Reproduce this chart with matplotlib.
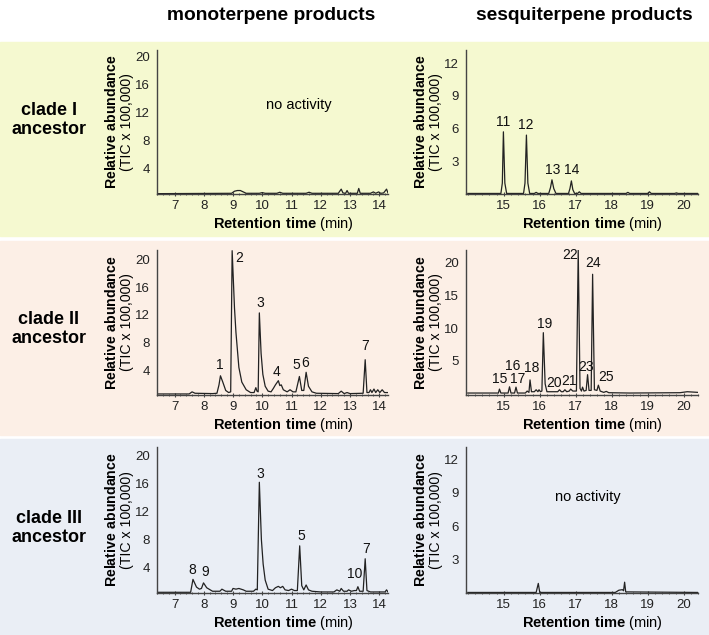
import matplotlib
matplotlib.use("Agg")
from matplotlib import pyplot as plt
from matplotlib.patches import Rectangle
from matplotlib.ticker import MultipleLocator

plt.rcParams['font.family'] = ['Liberation Sans', 'DejaVu Sans']
plt.rcParams['mathtext.fontset'] = 'custom'
plt.rcParams['mathtext.rm'] = 'Liberation Sans'
plt.rcParams['mathtext.bf'] = 'Liberation Sans:bold'

# clade I, monoterpene
c1_mono_t = [6.4, 8.95, 9.05, 9.15, 9.25, 9.35, 9.45, 9.9, 10.0, 10.1, 10.5, 10.6, 10.7,
             11.5, 11.6, 11.7, 12.6, 12.7, 12.76, 12.85, 12.9, 12.95, 13.25, 13.3, 13.35,
             13.7, 13.8, 13.88, 13.98, 14.05, 14.15, 14.25, 14.3]
c1_mono_y = [0.35, 0.4, 0.7, 0.8, 0.8, 0.6, 0.4, 0.4, 0.5, 0.4, 0.4, 0.55, 0.4,
             0.4, 0.55, 0.4, 0.4, 1.0, 0.45, 0.4, 0.8, 0.4, 0.4, 1.1, 0.4,
             0.4, 0.6, 0.4, 0.6, 0.4, 0.45, 1.0, 0.45]

# clade I, sesquiterpene
c1_sesq_t = [14.0, 14.92, 14.96, 14.99, 15.03, 15.08, 15.55, 15.59, 15.63, 15.67, 15.72,
             15.85, 15.9, 15.95, 16.25, 16.3, 16.34, 16.39, 16.45, 16.8, 16.84, 16.88, 16.92,
             16.97, 17.05, 17.1, 17.15, 18.4, 18.45, 18.5, 19.0, 19.05, 19.1, 19.75, 19.8,
             19.85, 20.4]
c1_sesq_y = [0.05, 0.05, 1.0, 5.7, 1.0, 0.05, 0.05, 1.0, 5.4, 1.0, 0.05,
             0.05, 0.15, 0.05, 0.05, 0.6, 1.3, 0.5, 0.05, 0.05, 0.5, 1.2, 0.4,
             0.05, 0.05, 0.2, 0.05, 0.05, 0.15, 0.05, 0.05, 0.2, 0.05, 0.05, 0.1,
             0.05, 0.05]

# clade II, monoterpene
c2_mono_t = [6.4, 7.5, 7.6, 7.7, 8.3, 8.45, 8.52, 8.57, 8.65, 8.75, 8.85, 8.92, 8.97,
             9.05, 9.1, 9.2, 9.3, 9.45, 9.6, 9.72, 9.78, 9.82, 9.86, 9.9, 9.96, 10.02,
             10.1, 10.2, 10.3, 10.38, 10.45, 10.55, 10.6, 10.65, 10.72, 10.85, 10.95,
             11.05, 11.15, 11.27, 11.35, 11.42, 11.5, 11.58, 11.7, 11.85, 12.6, 12.7,
             12.8, 12.9, 13.0, 13.45, 13.52, 13.58, 13.65, 13.7, 13.75, 13.82, 13.88,
             13.95, 14.02, 14.1, 14.18, 14.3]
c2_mono_y = [0.7, 0.7, 1.0, 0.8, 0.75, 0.8, 2.0, 3.3, 2.4, 1.2, 0.9, 1.0, 21.2,
             13.0, 9.5, 4.5, 2.4, 1.3, 0.9, 0.9, 1.6, 1.1, 1.0, 12.3, 6.5, 3.5,
             1.8, 1.1, 1.0, 1.5, 2.0, 2.6, 1.9, 2.0, 1.3, 1.0, 1.3,
             1.0, 1.0, 3.2, 1.2, 1.2, 3.8, 1.8, 1.0, 0.8, 0.75, 1.1,
             0.75, 0.9, 0.75, 0.8, 5.6, 0.9, 0.9, 1.3, 0.9, 1.4, 0.9,
             1.3, 0.9, 1.3, 0.9, 0.9]

# clade II, sesquiterpene
c2_sesq_t = [14.0, 14.85, 14.88, 14.92, 15.12, 15.16, 15.2, 15.3, 15.34, 15.38, 15.6,
             15.65, 15.7, 15.73, 15.77, 15.85, 15.9, 15.95, 15.98, 16.02, 16.06, 16.1,
             16.15, 16.2, 16.5, 16.55, 16.6, 16.65, 16.7, 16.75, 16.82, 16.86, 16.92,
             17.02, 17.07, 17.12, 17.16, 17.19, 17.23, 17.29, 17.33, 17.37, 17.43, 17.47,
             17.52, 17.59, 17.63, 17.68, 17.78, 17.85, 17.92, 18.5, 19.9, 20.1, 20.4]
c2_sesq_y = [0.1, 0.1, 0.7, 0.1, 0.1, 1.05, 0.1, 0.1, 1.0, 0.1, 0.1,
             0.4, 0.2, 2.1, 0.3, 0.3, 0.6, 0.3, 0.6, 0.3, 0.4, 9.3,
             1.5, 0.3, 0.3, 0.6, 0.3, 0.3, 0.6, 0.3, 0.4, 0.7, 0.4,
             0.4, 21.9, 0.8, 0.4, 1.0, 0.4, 0.5, 2.9, 0.5, 0.5, 18.2,
             0.6, 0.5, 1.3, 0.4, 0.2, 0.35, 0.15, 0.1, 0.15, 0.3, 0.2]

# clade III, monoterpene
c3_mono_t = [6.4, 7.55, 7.63, 7.75, 7.85, 7.92, 7.99, 8.1, 8.3, 8.55, 8.62, 8.75, 8.95,
             9.0, 9.1, 9.2, 9.35, 9.45, 9.7, 9.78, 9.83, 9.9, 9.97, 10.03, 10.1, 10.2,
             10.35, 10.45, 10.55, 10.62, 10.7, 10.78, 10.9, 11.0, 11.1, 11.2, 11.28,
             11.35, 11.42, 11.5, 11.58, 11.7, 12.0, 12.45, 12.55, 12.65, 12.7, 12.78,
             12.9, 12.95, 13.05, 13.15, 13.22, 13.27, 13.33, 13.45, 13.52, 13.58, 13.7,
             14.2, 14.25, 14.3]
c3_mono_y = [0.45, 0.45, 2.3, 1.2, 0.9, 1.0, 1.8, 1.1, 0.6, 0.6, 0.9, 0.6, 0.6,
             1.0, 0.9, 1.0, 0.8, 0.6, 0.6, 0.9, 0.8, 16.2, 8.0, 4.5, 2.2, 0.9,
             0.7, 1.1, 1.3, 1.1, 1.3, 0.8, 0.7, 0.9, 0.7, 0.7, 7.1,
             1.4, 0.8, 1.5, 0.8, 0.6, 0.5, 0.5, 0.8, 0.6, 1.0, 0.6,
             0.6, 0.8, 0.6, 0.7, 0.7, 1.25, 0.6, 0.6, 5.25, 0.7, 0.5,
             0.5, 0.8, 0.5]

# clade III, sesquiterpene
c3_sesq_t = [14.0, 15.9, 15.96, 16.0, 18.1, 18.2, 18.3, 18.33, 18.36, 18.39, 20.4]
c3_sesq_y = [0.05, 0.05, 0.86, 0.05, 0.05, 0.25, 0.3, 0.2, 0.97, 0.1, 0.05]

# peak labels: (text, x, y)
c1_sesq_labels = [("11", 14.98, 6.0), ("12", 15.62, 5.7), ("13", 16.35, 1.6), ("14", 16.88, 1.6)]
c2_mono_labels = [("1", 8.55, 3.8), ("2", 9.22, 19.2), ("3", 9.93, 12.7), ("4", 10.5, 2.9),
                  ("5", 11.17, 3.8), ("6", 11.45, 4.1), ("7", 13.53, 6.6)]
c2_sesq_labels = [("15", 14.9, 1.1), ("16", 15.25, 3.2), ("17", 15.4, 1.1), ("18", 15.79, 2.9),
                  ("19", 16.13, 9.6), ("20", 16.39, 0.5), ("21", 16.82, 0.9), ("22", 16.84, 20.0),
                  ("23", 17.3, 3.0), ("24", 17.47, 18.8), ("25", 17.84, 1.5)]
c3_mono_labels = [("8", 7.6, 2.6), ("9", 8.05, 2.3), ("3", 9.92, 16.4), ("5", 11.32, 7.5),
                  ("10", 13.17, 2.0), ("7", 13.56, 5.7)]

row_names = ["clade I\nancestor", "clade II\nancestor", "clade III\nancestor"]
col_names = ["monoterpene products", "sesquiterpene products"]

fig = plt.figure(figsize=(7.09, 6.35), dpi=100)
H = 635.0
W = 709.0

# background bands (pixel rows)
bands = [(42, 236, '#f5f9d0'), (241, 435, '#fcefe6'), (439, 635, '#eaeef5')]
for top, bot, col in bands:
    fig.patches.append(Rectangle((0, 1 - bot / H), 1, (bot - top) / H,
                                 transform=fig.transFigure, color=col, zorder=-10))

# axes boxes in pixels: left, top, right, bottom
col_x = [(157, 388), (466, 698)]
row_y = [(50, 194), (250, 395), (447, 593)]

panels = [
    (0, 0, c1_mono_t, c1_mono_y, (0.3, 21.0), [4, 8, 12, 16, 20], [], "no activity", (11.24, 13.1)),
    (0, 1, c1_sesq_t, c1_sesq_y, (0.0, 13.2), [3, 6, 9, 12], c1_sesq_labels, None, None),
    (1, 0, c2_mono_t, c2_mono_y, (0.55, 21.3), [4, 8, 12, 16, 20], c2_mono_labels, None, None),
    (1, 1, c2_sesq_t, c2_sesq_y, (-0.2, 21.9), [5, 10, 15, 20], c2_sesq_labels, None, None),
    (2, 0, c3_mono_t, c3_mono_y, (0.35, 21.25), [4, 8, 12, 16, 20], c3_mono_labels, None, None),
    (2, 1, c3_sesq_t, c3_sesq_y, (0.0, 13.1), [3, 6, 9, 12], [], "no activity", (17.33, 8.6)),
]

for r, c, t, y, ylim, yticks, labels, note, note_xy in panels:
    x0, x1 = col_x[c]
    y0, y1 = row_y[r]
    ax = fig.add_axes([x0 / W, 1 - y1 / H, (x1 - x0) / W, (y1 - y0) / H])
    ax.set_facecolor('none')
    ax.plot(t, y, color='#222222', lw=0.9, clip_on=True)
    if c == 0:
        ax.set_xlim(6.4, 14.3)
        ax.set_xticks(range(7, 15))
    else:
        ax.set_xlim(13.95, 20.4)
        ax.set_xticks(range(15, 21))
    ax.xaxis.set_minor_locator(MultipleLocator(0.2))
    ax.set_ylim(*ylim)
    ax.set_yticks(yticks)
    for s in ['top', 'right']:
        ax.spines[s].set_visible(False)
    for s in ['left', 'bottom']:
        ax.spines[s].set_color('#444444')
        ax.spines[s].set_linewidth(1.0)
    ax.tick_params(axis='y', length=0, pad=5, labelsize=9.5, colors='#222222')
    ax.tick_params(axis='x', which='major', length=2.5, direction='inout', pad=3,
                   labelsize=9.5, colors='#444444', labelcolor='#222222')
    ax.tick_params(axis='x', which='minor', length=2, direction='inout', colors='#444444')
    ax.set_xlabel(r"$\bf{Retention\ time}$ (min)", fontsize=10.5, labelpad=2)
    ax.xaxis.label.set_x(0.545)
    ax.set_ylabel("$\\bf{Relative\\ abundance}$\n(TIC x 100,000)", fontsize=10.2, labelpad=1,
                  linespacing=1.1)
    for txt, lx, ly in labels:
        ax.text(lx, ly, txt, ha='center', va='bottom', fontsize=10, color='#111111')
    if note:
        ax.text(note_xy[0], note_xy[1], note, ha='center', va='center', fontsize=10.5)

for i, name in enumerate(col_names):
    cx = [271, 584][i]
    fig.text(cx / W, 1 - 15 / H, name, ha='center', va='center', fontsize=13.8, fontweight='bold')

for i, name in enumerate(row_names):
    cy = [120, 329, 528][i]
    fig.text(49 / W, 1 - cy / H, name, ha='center', va='center', fontsize=13,
             fontweight='bold', linespacing=1.15)

fig.savefig('out.png', dpi=100)
